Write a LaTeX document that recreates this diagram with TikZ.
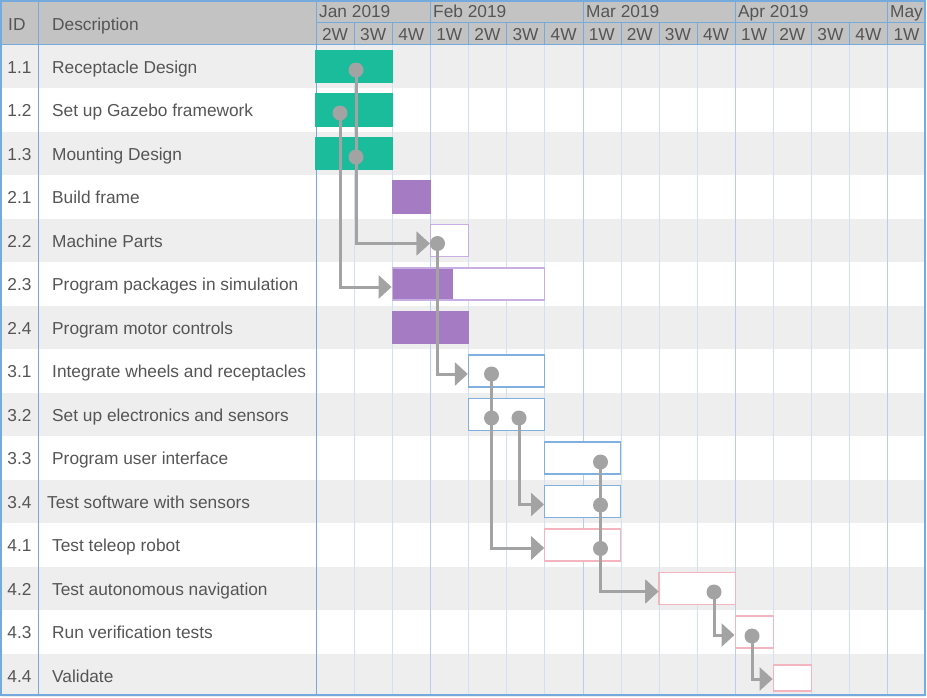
\documentclass[tikz,border=0pt]{standalone}
\usepackage{fontspec}
\setmainfont{Liberation Sans}
\usetikzlibrary{arrows.meta,positioning}
\definecolor{cabecera}{HTML}{C3C3C3}
\definecolor{franja}{HTML}{EEEEEE}
\definecolor{borde}{HTML}{75AADC}
\definecolor{rejilla}{HTML}{CFE2F3}
\definecolor{rejillames}{HTML}{B3D0EC}
\definecolor{texto}{HTML}{555555}
\definecolor{verde}{HTML}{1ABC9C}
\definecolor{morado}{HTML}{A57BC4}
\definecolor{moradoclaro}{HTML}{C9AEE3}
\definecolor{azul}{HTML}{7FB0DF}
\definecolor{rosa}{HTML}{F5B5C0}
\definecolor{flecha}{HTML}{A3A3A3}

\begin{document}
\begin{tikzpicture}[x=1pt, y=-1pt,
    every node/.style={font=\fontsize{17.3}{20}\selectfont, text=texto, inner sep=0pt},
    barra/.style={minimum height=32pt, line width=1.2pt},
    lleno/.style={barra, fill=#1, draw=#1},
    hueco/.style={barra, fill=white, draw=#1},
    dep/.style={draw=flecha, line width=3pt, -{Triangle[length=13pt,width=23pt]}},
    punto/.style={fill=flecha}]
    \useasboundingbox (0,0) rectangle (927,697);

    % Filas sombreadas
    \foreach \i in {0,2,...,14}
      \fill[franja] (1,{44.75+43.5*\i}) rectangle (925,{88.25+43.5*\i});

    % Rejilla de semanas
    \foreach \k in {1,...,15}
      \draw[rejilla] ({316+38.1*\k},44) -- ({316+38.1*\k},695);
    \foreach \k in {3,7,11,15}
      \draw[rejillames] ({316+38.1*\k},44) -- ({316+38.1*\k},695);

    % Encabezado
    \fill[cabecera] (1,1) rectangle (925,44);
    \draw[borde] (1,44) -- (925,44);
    \draw[borde] (316,22) -- (925,22);
    \draw[borde] (38,1) -- (38,695);
    \draw[borde] (316,1) -- (316,695);
    \foreach \k in {3,7,11,15}
      \draw[borde] ({316+38.1*\k},1) -- ({316+38.1*\k},44);
    \foreach \k in {1,...,15}
      \draw[borde] ({316+38.1*\k},22) -- ({316+38.1*\k},44);
    \draw[borde, line width=1.2pt] (1,1) rectangle (925,695);

    \node[anchor=base west] (hid) at (8,30) {ID};
    \node[anchor=base west] (hdesc) at (52,30) {Description};
    \node[anchor=base west] (mjan) at (319,17) {Jan 2019};
    \node[anchor=base west] (mfeb) at (433,17) {Feb 2019};
    \node[anchor=base west] (mmar) at (586,17) {Mar 2019};
    \node[anchor=base west] (mapr) at (738,17) {Apr 2019};
    \node[anchor=base west] (mmay) at (890,17) {May};
    \foreach \k/\w in {0/2W,1/3W,2/4W,3/1W,4/2W,5/3W,6/4W,7/1W,8/2W,9/3W,10/4W,11/1W,12/2W,13/3W,14/4W,15/1W}
      \node[anchor=base] (s\k) at ({335.05+38.1*\k},40) {\w};

    % Tareas
    \foreach \i/\id/\desc/\dx in {0/1.1/Receptacle Design/52, 1/1.2/Set up Gazebo framework/52,
        2/1.3/Mounting Design/52, 3/2.1/Build frame/52, 4/2.2/Machine Parts/52,
        5/2.3/Program packages in simulation/52, 6/2.4/Program motor controls/52,
        7/3.1/Integrate wheels and receptacles/52, 8/3.2/Set up electronics and sensors/52,
        9/3.3/Program user interface/52, 10/3.4/Test software with sensors/47,
        11/4.1/Test teleop robot/52, 12/4.2/Test autonomous navigation/52,
        13/4.3/Run verification tests/52, 14/4.4/Validate/52} {
      \node[anchor=base] (id\i) at (19.5,{73+43.5*\i}) {\id};
      \node[anchor=base west] (de\i) at (\dx,{73+43.5*\i}) {\desc};
    }

    % Barras
    \node[lleno=verde, minimum width=76.2pt] (t11) at (354.1,66.5) {};
    \node[lleno=verde, minimum width=76.2pt] (t12) at (354.1,110) {};
    \node[lleno=verde, minimum width=76.2pt] (t13) at (354.1,153.5) {};
    \node[lleno=morado, minimum width=38.1pt] (t21) at (411.25,197) {};
    \node[hueco=moradoclaro, minimum width=38.1pt] (t22) at (449.35,240.5) {};
    \node[hueco=moradoclaro, minimum width=152.4pt, path picture={
        \fill[morado] (path picture bounding box.north west)
          rectangle ([xshift=61pt]path picture bounding box.south west);}] (t23) at (468.4,284) {};
    \node[lleno=morado, minimum width=76.2pt] (t24) at (430.3,327.5) {};
    \node[hueco=azul, minimum width=76.2pt] (t31) at (506.5,371) {};
    \node[hueco=azul, minimum width=76.2pt] (t32) at (506.5,414.5) {};
    \node[hueco=azul, minimum width=76.2pt] (t33) at (582.7,458) {};
    \node[hueco=azul, minimum width=76.2pt] (t34) at (582.7,501.5) {};
    \node[hueco=rosa, minimum width=76.2pt] (t41) at (582.7,545) {};
    \node[hueco=rosa, minimum width=76.2pt] (t42) at (697,588.5) {};
    \node[hueco=rosa, minimum width=38.1pt] (t43) at (754.15,632) {};
    \node[hueco=rosa, minimum width=38.1pt, minimum height=26pt] (t44) at (792.25,678) {};

    % Dependencias
    \coordinate (d11) at (356,70);
    \coordinate (d12) at (340,113);
    \coordinate (d13) at (356,157);
    \coordinate (d22) at (437.5,243.5);
    \coordinate (d31) at (491.5,374);
    \coordinate (d32a) at (491.5,418);
    \coordinate (d32b) at (519,418);
    \coordinate (d33) at (600.5,462);
    \coordinate (d34) at (600.5,505);
    \coordinate (d41) at (600.5,548.5);
    \coordinate (d42) at (714,592);
    \coordinate (d43) at (752,636);

    \draw[dep] (d11) |- ([yshift=-3pt]t22.west);
    \draw[dep] (d13) |- ([yshift=-3pt]t22.west);
    \draw[dep] (d12) |- ([yshift=-3pt]t23.west);
    \draw[dep] (d22) |- ([yshift=-3pt]t31.west);
    \draw[dep] (d31) |- ([yshift=-3pt]t41.west);
    \draw[dep] (d32a) |- ([yshift=-3pt]t41.west);
    \draw[dep] (d32b) |- ([yshift=-3pt]t34.west);
    \draw[dep] (d33) |- ([yshift=-3pt]t42.west);
    \draw[dep] (d34) |- ([yshift=-3pt]t42.west);
    \draw[dep] (d41) |- ([yshift=-3pt]t42.west);
    \draw[dep] (d42) |- ([yshift=-3pt]t43.west);
    \draw[dep] (d43) |- ([yshift=-1pt]t44.west);

    \foreach \d in {d11,d12,d13,d22,d31,d32a,d32b,d33,d34,d41,d42,d43}
      \fill[punto] (\d) circle (7.5pt);
  \end{tikzpicture}
\end{document}
